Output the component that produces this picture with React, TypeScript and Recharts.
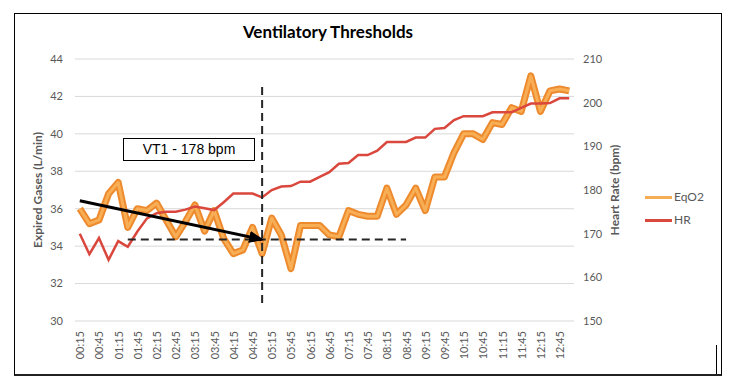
import { LineChart, Line, XAxis, YAxis, CartesianGrid, ReferenceLine, Label } from "recharts";

const times = [
  "00:15", "00:30", "00:45", "01:00", "01:15", "01:30", "01:45", "02:00", "02:15", "02:30",
  "02:45", "03:00", "03:15", "03:30", "03:45", "04:00", "04:15", "04:30", "04:45", "05:00",
  "05:15", "05:30", "05:45", "06:00", "06:15", "06:30", "06:45", "07:00", "07:15", "07:30",
  "07:45", "08:00", "08:15", "08:30", "08:45", "09:00", "09:15", "09:30", "09:45", "10:00",
  "10:15", "10:30", "10:45", "11:00", "11:15", "11:30", "11:45", "12:00", "12:15", "12:30",
  "12:45", "13:00",
];

const eqo2 = [
  36.0, 35.2, 35.4, 36.8, 37.4, 35.0, 36.0, 35.9, 36.3, 35.4,
  34.5, 35.3, 36.2, 34.8, 35.9, 34.4, 33.6, 33.8, 35.0, 33.6,
  35.5, 34.6, 32.8, 35.1, 35.1, 35.1, 34.6, 34.5, 35.9, 35.7,
  35.6, 35.6, 37.1, 35.7, 36.2, 37.1, 35.9, 37.7, 37.7, 39.0,
  40.0, 40.0, 39.7, 40.6, 40.5, 41.4, 41.2, 43.1, 41.2, 42.3,
  42.4, 42.3,
];

const hr = [
  170, 165.3, 169, 164, 168.3, 167, 170.5, 173.5, 174.7, 175,
  175, 175.5, 176.2, 175.8, 175.4, 177.2, 179.2, 179.2, 179.2, 178.3,
  180, 180.8, 180.9, 181.9, 181.9, 183, 184.1, 186, 186.2, 188,
  188, 189, 191, 191, 191, 192, 192, 194, 194.2, 196,
  196.9, 196.9, 196.9, 197.8, 197.8, 197.8, 198.8, 199.8, 199.8, 199.9,
  201, 201,
];

const leftTicks = [30, 32, 34, 36, 38, 40, 42, 44];
const rightTicks = [150, 160, 170, 180, 190, 200, 210];

// annotation values (left axis units)
const vt1Time = "05:00";
const vt1Level = 34.35;
const baselineStart = "01:30";
const baselineEnd = "08:45";
const arrowStart = { x: "00:15", y: 36.43 };
const vLineTop = 42.5;
const vLineBottom = 30.7;

const data = times.map((t, i) => ({ time: t, eqo2: eqo2[i], hr: hr[i] }));

const grey = "#595959";
const font = "Lato, 'Open Sans', sans-serif";

const XTick = ({ x, y, payload }: any) => (
  <text
    x={x}
    y={y}
    transform={`rotate(-90 ${x} ${y})`}
    textAnchor="end"
    dominantBaseline="central"
    fontSize={11}
    fill={grey}
    fontFamily={font}
  >
    {payload.value}
  </text>
);

export default function App() {
  return (
    <div
      style={{
        position: "absolute",
        left: 0,
        top: 0,
        width: 736,
        height: 386,
        background: "#fff",
        fontFamily: font,
      }}
    >
      <svg width={0} height={0} style={{ position: "absolute" }}>
        <defs>
          <marker
            id="vtArrow"
            markerUnits="userSpaceOnUse"
            markerWidth={15}
            markerHeight={12}
            refX={13}
            refY={6}
            orient="auto"
          >
            <path d="M0,0 L15,6 L0,12 z" fill="#000" />
          </marker>
        </defs>
      </svg>

      {/* frame */}
      <div
        style={{
          position: "absolute",
          left: 14,
          top: 13,
          width: 706,
          height: 360,
          borderTop: "1px solid #000",
          borderLeft: "1px solid #000",
          borderRight: "1px solid #000",
          borderBottom: "2px solid #222",
        }}
      />
      <div style={{ position: "absolute", left: 716, top: 345, width: 1, height: 29, background: "#000" }} />

      <div
        style={{
          position: "absolute",
          left: 0,
          width: 656,
          top: 21,
          textAlign: "center",
          fontWeight: "bold",
          fontSize: 17,
          color: "#000",
        }}
      >
        Ventilatory Thresholds
      </div>

      <div style={{ position: "absolute", left: 0, top: 0 }}>
        <LineChart width={736} height={386} data={data} margin={{ top: 59, right: 112, bottom: 10, left: 0 }}>
          <CartesianGrid vertical={false} stroke="#d9d9d9" yAxisId="l" />
          <XAxis
            dataKey="time"
            interval={1}
            height={55}
            tickSize={0}
            tickMargin={10}
            axisLine={false}
            tickLine={false}
            padding={{ left: 4.8, right: 4.8 }}
            tick={<XTick />}
          />
          <YAxis
            yAxisId="l"
            domain={[30, 44]}
            ticks={leftTicks}
            width={75}
            tickSize={0}
            tickMargin={12}
            axisLine={false}
            tickLine={false}
            tick={{ fontSize: 11, fill: grey, fontFamily: font }}
          >
            <Label
              value="Expired Gases (L/min)"
              angle={-90}
              position="insideLeft"
              offset={38}
              style={{ textAnchor: "middle", fontSize: 12, fontWeight: "bold", fill: grey, fontFamily: font }}
            />
          </YAxis>
          <YAxis
            yAxisId="r"
            orientation="right"
            domain={[150, 210]}
            ticks={rightTicks}
            width={50}
            tickSize={0}
            tickMargin={9}
            axisLine={false}
            tickLine={false}
            tick={{ fontSize: 11, fill: grey, fontFamily: font }}
          >
            <Label
              value="Heart Rate (bpm)"
              angle={-90}
              position="insideLeft"
              offset={41}
              style={{ textAnchor: "middle", fontSize: 12, fontWeight: "bold", fill: grey, fontFamily: font }}
            />
          </YAxis>

          <Line
            yAxisId="l"
            dataKey="eqo2"
            type="linear"
            stroke="#ee8a2e"
            strokeWidth={7}
            strokeLinejoin="round"
            dot={false}
            legendType="none"
            isAnimationActive={false}
          />
          <Line
            yAxisId="l"
            dataKey="eqo2"
            name="EqO2"
            type="linear"
            stroke="#f8ae55"
            strokeWidth={3}
            strokeLinejoin="round"
            dot={false}
            isAnimationActive={false}
          />
          <Line
            yAxisId="r"
            dataKey="hr"
            name="HR"
            type="linear"
            stroke="#d9473d"
            strokeWidth={2.5}
            dot={false}
            isAnimationActive={false}
          />

          <ReferenceLine
            yAxisId="l"
            segment={[
              { x: baselineStart, y: vt1Level },
              { x: baselineEnd, y: vt1Level },
            ]}
            stroke="#262626"
            strokeWidth={2}
            strokeDasharray="8 5"
          />
          <ReferenceLine
            yAxisId="l"
            segment={[
              { x: vt1Time, y: vLineTop },
              { x: vt1Time, y: vLineBottom },
            ]}
            stroke="#262626"
            strokeWidth={2}
            strokeDasharray="8 5"
          />
          <ReferenceLine
            yAxisId="l"
            ifOverflow="visible"
            segment={[arrowStart, { x: vt1Time, y: vt1Level }]}
            stroke="#000"
            strokeWidth={3}
            markerEnd="url(#vtArrow)"
          />
        </LineChart>
      </div>

      {/* annotation box */}
      <div
        style={{
          position: "absolute",
          left: 123,
          top: 138,
          width: 130,
          height: 21,
          border: "1px solid #000",
          background: "#fff",
          fontFamily: "'Liberation Sans', Arial, sans-serif",
          fontSize: 14,
          lineHeight: "21px",
          textAlign: "center",
          color: "#000",
        }}
      >
        VT1 - 178 bpm
      </div>

      {/* legend */}
      <div style={{ position: "absolute", left: 645, top: 189, fontSize: 12, color: grey, lineHeight: "16px" }}>
        <div style={{ display: "flex", alignItems: "center", height: 16 }}>
          <span style={{ width: 27, height: 3, background: "#f5ad55", display: "inline-block", marginRight: 2 }} />
          EqO2
        </div>
        <div style={{ display: "flex", alignItems: "center", height: 16, marginTop: 7 }}>
          <span style={{ width: 27, height: 3, background: "#d9473d", display: "inline-block", marginRight: 2 }} />
          HR
        </div>
      </div>
    </div>
  );
}
